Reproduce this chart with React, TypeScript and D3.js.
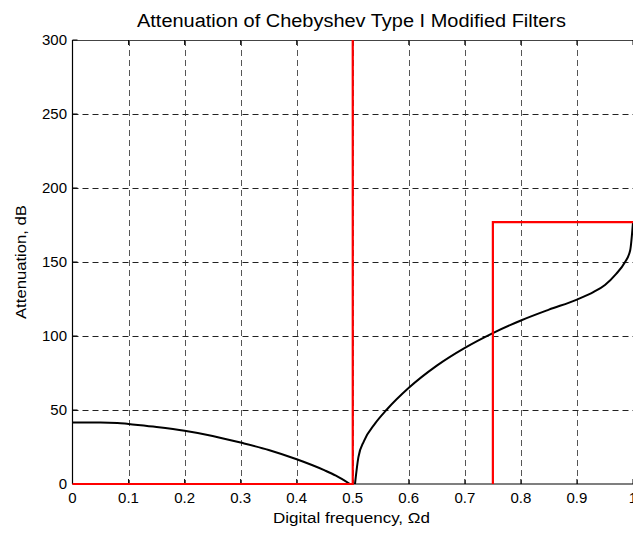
import React from "react";
import * as d3 from "d3";

const xTicks = [0, 0.1, 0.2, 0.3, 0.4, 0.5, 0.6, 0.7, 0.8, 0.9, 1];
const yTicks = [0, 50, 100, 150, 200, 250, 300];

const passFreq = [0, 0.05, 0.08, 0.1, 0.15, 0.2, 0.25, 0.3, 0.35, 0.4, 0.45, 0.47, 0.495];
const passAtt = [41.5, 41.5, 41.3, 40.5, 38.5, 36, 32.5, 28, 23, 16.7, 9.2, 5.6, 0];

const stopFreq = [
  0.504, 0.51, 0.52, 0.54, 0.56, 0.6, 0.65, 0.7, 0.75, 0.8, 0.85, 0.9, 0.93,
  0.95, 0.97, 0.985, 0.995, 1.0,
];
const stopAtt = [
  0, 18, 29, 41, 50, 65, 80, 92, 102, 110.5, 117.8, 124.6, 129.8,
  134.5, 142, 149.5, 158, 177,
];

const specPassFreq = [0, 0.5, 0.5];
const specPassAtt = [0, 0, 300];
const specStopFreq = [0.75, 0.75, 1];
const specStopAtt = [0, 177, 177];

const W = 633;
const H = 534;
const L = 72.5;
const R = 633;
const T = 40;
const B = 484;

export default function App() {
  const x = d3.scaleLinear().domain([0, 1]).range([L, R]);
  const y = d3.scaleLinear().domain([0, 300]).range([B, T]);

  const pass = passFreq.map((f, i) => [f, passAtt[i]] as [number, number]);
  const stop = stopFreq.map((f, i) => [f, stopAtt[i]] as [number, number]);
  const passSpec = specPassFreq.map((f, i) => [f, specPassAtt[i]] as [number, number]);
  const stopSpec = specStopFreq.map((f, i) => [f, specStopAtt[i]] as [number, number]);

  const smooth = d3
    .line<[number, number]>()
    .x((d) => x(d[0]))
    .y((d) => y(d[1]))
    .curve(d3.curveMonotoneX);
  const poly = d3
    .line<[number, number]>()
    .x((d) => x(d[0]))
    .y((d) => y(d[1]));

  const font = "'Liberation Sans', Arial, Helvetica, sans-serif";

  return (
    <svg
      width={W}
      height={H}
      style={{ position: "absolute", left: 0, top: 0, background: "#fff" }}
      fontFamily={font}
    >
      <rect x={0} y={0} width={W} height={H} fill="#fff" />
      {xTicks.slice(1).map((t) => (
        <line
          key={"gx" + t}
          x1={Math.round(x(t)) + 0.5}
          x2={Math.round(x(t)) + 0.5}
          y1={T}
          y2={B}
          stroke="#555"
          strokeWidth={1}
          strokeDasharray="6,4"
        />
      ))}
      {yTicks.slice(1).map((t) => (
        <line
          key={"gy" + t}
          x1={L}
          x2={R}
          y1={Math.round(y(t)) + 0.5}
          y2={Math.round(y(t)) + 0.5}
          stroke="#222"
          strokeWidth={1}
          strokeDasharray="6,4"
        />
      ))}
      <line x1={L} x2={L} y1={T} y2={B} stroke="#000" strokeWidth={1.2} />
      <line x1={L} x2={R} y1={B} y2={B} stroke="#000" strokeWidth={1.2} />
      <line x1={L} x2={R} y1={T + 0.5} y2={T + 0.5} stroke="#444" strokeWidth={1} />
      {xTicks.map((t) => (
        <g key={"tx" + t}>
          <line x1={x(t)} x2={x(t)} y1={B} y2={B - 5} stroke="#000" />
          <line x1={x(t)} x2={x(t)} y1={T} y2={T + 5} stroke="#000" />
          <text x={x(t)} y={503} fontSize={15} textAnchor="middle" fill="#000">
            {String(t)}
          </text>
        </g>
      ))}
      {yTicks.map((t) => (
        <g key={"ty" + t}>
          <line x1={L} x2={L + 5} y1={y(t)} y2={y(t)} stroke="#000" />
          <text x={67} y={y(t)} dy="0.35em" fontSize={15} textAnchor="end" fill="#000">
            {String(t)}
          </text>
        </g>
      ))}
      <path d={smooth(pass) || ""} fill="none" stroke="#000" strokeWidth={2} />
      <path d={smooth(stop) || ""} fill="none" stroke="#000" strokeWidth={2} />
      <path d={poly(passSpec) || ""} fill="none" stroke="#ff0000" strokeWidth={2.2} />
      <path d={poly(stopSpec) || ""} fill="none" stroke="#ff0000" strokeWidth={2.2} />
      <text
        x={351.5}
        y={27}
        fontSize={18}
        textAnchor="middle"
        textLength={429}
        lengthAdjust="spacingAndGlyphs"
        fill="#000"
      >
        Attenuation of Chebyshev Type I Modified Filters
      </text>
      <text
        x={351.5}
        y={523}
        fontSize={14}
        textAnchor="middle"
        textLength={157}
        lengthAdjust="spacingAndGlyphs"
        fill="#000"
      >
        Digital frequency, Ωd
      </text>
      <text
        transform={`translate(26,262) rotate(-90)`}
        fontSize={14}
        textAnchor="middle"
        textLength={114}
        lengthAdjust="spacingAndGlyphs"
        fill="#000"
      >
        Attenuation, dB
      </text>
    </svg>
  );
}
